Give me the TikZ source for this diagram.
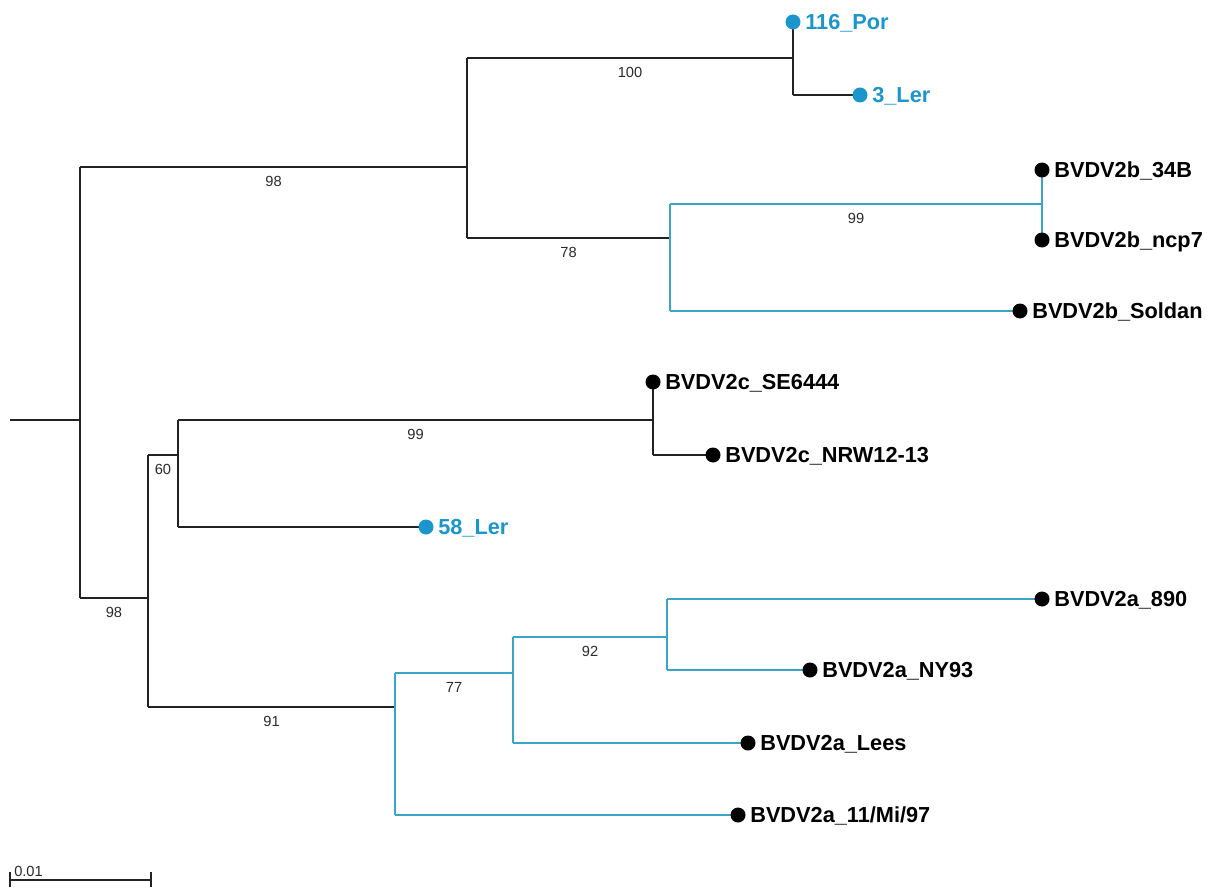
\documentclass[tikz,border=0pt]{standalone}
\usepackage{fontspec}
\setmainfont{Liberation Sans}
\definecolor{treeblack}{HTML}{222222}
\definecolor{treecyan}{HTML}{3AA5C8}
\definecolor{tipcyan}{HTML}{1A96CC}
\definecolor{bsgray}{HTML}{2A2A2A}
\begin{document}
\begin{tikzpicture}[x=0.75pt,y=-0.75pt,
  br/.style={draw=treeblack, line width=1pt},
  cbr/.style={draw=treecyan, line width=1pt},
  tipdot/.style={circle, fill=#1, inner sep=0pt, minimum size=11.25pt},
  tiplabel/.style={anchor=west, inner xsep=3.2pt, inner ysep=1pt, text=#1,
    font=\fontsize{16.3}{19}\selectfont\bfseries, text height=11.7pt, text depth=0pt},
  bs/.style={font=\fontsize{11}{13}\selectfont, text=bsgray, inner sep=0pt}
]
\useasboundingbox (0,0) rectangle (1210,888);
% internal nodes
\coordinate (r0) at (10,420);
\coordinate (R) at (80,420);
\coordinate (A) at (467,167);
\coordinate (P) at (793,58);
\coordinate (B) at (670,238);
\coordinate (Bk) at (1042,204);
\coordinate (C) at (148,598);
\coordinate (D) at (178,455);
\coordinate (F) at (653,420);
\coordinate (E) at (395,707);
\coordinate (G) at (513,673);
\coordinate (H) at (667,637);
% tips (dot positions)
\coordinate (t116) at (793,22);
\coordinate (t3) at (860,95);
\coordinate (t34) at (1042,170);
\coordinate (tncp) at (1042,240);
\coordinate (tsol) at (1020,311);
\coordinate (tse) at (653,382);
\coordinate (tnrw) at (713,455);
\coordinate (t58) at (426,527);
\coordinate (t890) at (1042,599);
\coordinate (tny) at (810,670);
\coordinate (tlees) at (748,743);
\coordinate (t11) at (738,815);

% black branches
\draw[br] (r0) -- (R);
\draw[br] (R |- A) -- (R |- C);
\draw[br] (R |- A) -- (A) node[bs, midway, yshift=-10.5pt] {98};
\draw[br] (A |- P) -- (A |- B);
\draw[br] (A |- P) -- (P) node[bs, midway, yshift=-10.5pt] {100};
\draw[br] (P |- t116) -- (P |- t3);
\draw[br] (P |- t3) -- (t3);
\draw[br] (A |- B) -- (B) node[bs, midway, yshift=-10.5pt] {78};
\draw[br] (R |- C) -- (C) node[bs, midway, yshift=-10.5pt] {98};
\draw[br] (C |- D) -- (C |- E);
\draw[br] (C |- D) -- (D) node[bs, midway, yshift=-10.5pt] {60};
\draw[br] (D |- F) -- (D |- t58);
\draw[br] (D |- F) -- (F) node[bs, midway, yshift=-10.5pt] {99};
\draw[br] (F |- tse) -- (F |- tnrw);
\draw[br] (F |- tnrw) -- (tnrw);
\draw[br] (D |- t58) -- (t58);
\draw[br] (C |- E) -- (E) node[bs, midway, yshift=-10.5pt] {91};
% cyan branches
\draw[cbr] (B |- Bk) -- (B |- tsol);
\draw[cbr] (B |- Bk) -- (Bk) node[bs, midway, yshift=-10.5pt] {99};
\draw[cbr] (Bk |- t34) -- (Bk |- tncp);
\draw[cbr] (B |- tsol) -- (tsol);
\draw[cbr] (E |- G) -- (E |- t11);
\draw[cbr] (E |- G) -- (G) node[bs, midway, yshift=-10.5pt] {77};
\draw[cbr] (G |- H) -- (G |- tlees);
\draw[cbr] (G |- H) -- (H) node[bs, midway, yshift=-10.5pt] {92};
\draw[cbr] (H |- t890) -- (H |- tny);
\draw[cbr] (H |- t890) -- (t890);
\draw[cbr] (H |- tny) -- (tny);
\draw[cbr] (G |- tlees) -- (tlees);
\draw[cbr] (E |- t11) -- (t11);

% tip dots and labels
\node[tipdot=tipcyan] (d116) at (t116) {};
\node[tiplabel=tipcyan] (l116) at (d116.east) {116\_Por};
\node[tipdot=tipcyan] (d3) at (t3) {};
\node[tiplabel=tipcyan] (l3) at (d3.east) {3\_Ler};
\node[tipdot=black] (d34) at (t34) {};
\node[tiplabel=black] (l34) at (d34.east) {BVDV2b\_34B};
\node[tipdot=black] (dncp) at (tncp) {};
\node[tiplabel=black] (lncp) at (dncp.east) {BVDV2b\_ncp7};
\node[tipdot=black] (dsol) at (tsol) {};
\node[tiplabel=black] (lsol) at (dsol.east) {BVDV2b\_Soldan};
\node[tipdot=black] (dse) at (tse) {};
\node[tiplabel=black] (lse) at (dse.east) {BVDV2c\_SE6444};
\node[tipdot=black] (dnrw) at (tnrw) {};
\node[tiplabel=black] (lnrw) at (dnrw.east) {BVDV2c\_NRW12-13};
\node[tipdot=tipcyan] (d58) at (t58) {};
\node[tiplabel=tipcyan] (l58) at (d58.east) {58\_Ler};
\node[tipdot=black] (d890) at (t890) {};
\node[tiplabel=black] (l890) at (d890.east) {BVDV2a\_890};
\node[tipdot=black] (dny) at (tny) {};
\node[tiplabel=black] (lny) at (dny.east) {BVDV2a\_NY93};
\node[tipdot=black] (dlees) at (tlees) {};
\node[tiplabel=black] (llees) at (dlees.east) {BVDV2a\_Lees};
\node[tipdot=black] (d11) at (t11) {};
\node[tiplabel=black] (l11) at (d11.east) {BVDV2a\_11/Mi/97};

% scale bar
\coordinate (sb1) at (10,880);
\coordinate (sb2) at (151,880);
\draw[br, line width=1.3pt] (sb1) -- (sb2);
\draw[br, line width=1.3pt] ([yshift=6pt]sb1) -- ([yshift=-5.5pt]sb1);
\draw[br, line width=1.3pt] ([yshift=6pt]sb2) -- ([yshift=-5.5pt]sb2);
\node[bs, anchor=base west] (sbl) at (14,876) {0.01};
\end{tikzpicture}
\end{document}
